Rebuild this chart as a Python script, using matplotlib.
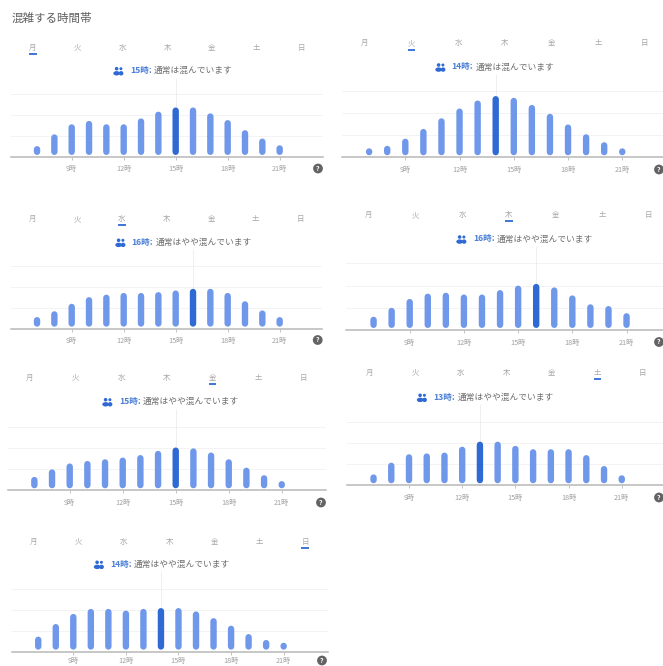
import matplotlib as mpl
mpl.use('Agg')
import matplotlib.pyplot as plt
from matplotlib.patches import Ellipse
import numpy as np

plt.rcParams['font.family'] = ['Noto Sans CJK JP', 'DejaVu Sans']

W = 663
H = 666

days = ['月', '火', '水', '木', '金', '土', '日']
hours = np.arange(7, 22)
tick_hours = [9, 12, 15, 18, 21]
tick_labels = ['9時', '12時', '15時', '18時', '21時']
grid_levels = [25, 50, 75]

# busyness per hour, 7時 to 21時
mon = [13, 27, 39, 43, 39, 39, 46, 54, 59, 59, 52, 44, 32, 22, 14]
tue = [9, 13, 21, 32, 44, 55, 64, 69, 67, 59, 49, 37, 26, 17, 10]
wed = [14, 21, 30, 38, 41, 43, 43, 44, 46, 48, 48, 43, 33, 22, 14]
thu = [15, 25, 35, 41, 42, 40, 40, 45, 50, 52, 48, 39, 29, 27, 19]
fri = [16, 25, 32, 35, 37, 39, 42, 47, 51, 50, 45, 37, 27, 18, 11]
sat = [13, 27, 37, 38, 39, 46, 52, 52, 47, 43, 43, 43, 36, 23, 12]
sun = [18, 33, 45, 51, 51, 49, 51, 52, 52, 48, 40, 31, 21, 14, 9]

day_values = [mon, tue, wed, thu, fri, sat, sun]
peak_hours = [15, 14, 16, 16, 15, 13, 14]
status = ['通常は混んでいます', '通常は混んでいます', '通常はやや混んでいます', '通常はやや混んでいます',
          '通常はやや混んでいます', '通常はやや混んでいます', '通常はやや混んでいます']

# panel placement in pixels of the image
panels = [
    dict(x9=71.7, hr=17.33, base=157.0, grid=21.0, left=11, right=323, day_y=47.7, day_x=33.0, day_step=44.7,
         icon=118.5, time=130.0, head=70.7, tick_y=168.5, q=318.0),
    dict(x9=405.3, hr=18.08, base=157.3, grid=22.2, left=342, right=663, day_y=43.3, day_x=365.0, day_step=46.6,
         icon=440.5, time=451.7, head=67.0, tick_y=169.5, q=659.0),
    dict(x9=71.7, hr=17.33, base=328.7, grid=20.8, left=11, right=322, day_y=219.0, day_x=32.7, day_step=44.6,
         icon=120.5, time=131.7, head=242.3, tick_y=340.0, q=317.7),
    dict(x9=409.7, hr=18.07, base=330.0, grid=22.2, left=346, right=663, day_y=215.0, day_x=369.0, day_step=46.6,
         icon=461.5, time=473.0, head=239.0, tick_y=342.0, q=659.0),
    dict(x9=69.7, hr=17.67, base=490.3, grid=21.0, left=8, right=326, day_y=377.7, day_x=30.0, day_step=45.6,
         icon=107.5, time=119.0, head=401.7, tick_y=502.5, q=321.0),
    dict(x9=409.0, hr=17.73, base=485.3, grid=21.0, left=347, right=663, day_y=372.7, day_x=369.3, day_step=45.6,
         icon=422.0, time=433.3, head=397.3, tick_y=497.5, q=659.0),
    dict(x9=73.3, hr=17.53, base=651.7, grid=21.0, left=12, right=328, day_y=541.7, day_x=33.3, day_step=45.3,
         icon=99.0, time=110.0, head=564.3, tick_y=660.5, q=322.0),
]

BLUE_LIGHT = '#6f97ea'
BLUE_DARK = '#2f6ad4'
BLUE_TEXT = '#4a7fd6'
GRAY_DAY = '#a8a8a8'
GRAY_TICK = '#a0a0a0'
GRAY_TEXT = '#6e6e6e'

BAR_PX = 6.4
GAP_PX = 2.0


def fx(px):
    return px / W


def fy(py):
    return 1 - py / H


def draw_icon(fig, x, y):
    # small people glyph beside the header
    for dx, r in [(-1.9, 1.8), (2.4, 1.5)]:
        fig.add_artist(Ellipse((fx(x + dx), fy(y - 2.0)), 2 * r / W, 2 * r / H, color=BLUE_DARK, lw=0))
    for dx, w in [(-1.9, 6.6), (2.6, 4.6)]:
        fig.add_artist(Ellipse((fx(x + dx), fy(y + 2.6)), w / W, 4.4 / H, color=BLUE_DARK, lw=0))


fig = plt.figure(figsize=(W / 100, H / 100), dpi=100)

fig.text(fx(11.5), fy(18), '混雑する時間帯', fontsize=8.3, color='#5f5f5f', va='center', ha='left')

for i, (vals, p) in enumerate(zip(day_values, panels)):
    top = p['head'] + 7
    ax = fig.add_axes([fx(p['left']), fy(p['base']), (p['right'] - p['left']) / W, (p['base'] - top) / H])
    ax.patch.set_alpha(0)
    per_px = 25 / p['grid']
    ax.set_ylim(0, (p['base'] - top) * per_px)
    ax.set_xlim(9 + (p['left'] - p['x9']) / p['hr'], 9 + (p['right'] - p['x9']) / p['hr'])

    for lev in grid_levels:
        ax.axhline(lev, color='#f3f3f3', lw=0.7, zorder=1)

    peak = peak_hours[i]
    vals = np.array(vals, dtype=float)
    ax.vlines(peak, vals[hours == peak][0], ax.get_ylim()[1], color='#ececec', lw=0.6, zorder=1)

    # round caps reach half a bar width past each end of the line
    cap = BAR_PX / 2 * per_px
    low = GAP_PX * per_px + cap
    for h, v in zip(hours, vals):
        color = BLUE_DARK if h == peak else BLUE_LIGHT
        # agg drops a line with no length, so short bars keep a small rise
        ax.plot([h, h], [low, max(v - cap, low + 0.6 * per_px)], color=color, lw=BAR_PX * 0.72,
                solid_capstyle='round', zorder=3, snap=False)

    for s in ['top', 'left', 'right']:
        ax.spines[s].set_visible(False)
    ax.spines['bottom'].set_color('#b8b8b8')
    ax.spines['bottom'].set_linewidth(1.1)
    ax.set_yticks([])
    ax.set_xticks(tick_hours)
    ax.set_xticklabels(tick_labels)
    ax.tick_params(axis='x', length=2, width=0.6, color='#b8b8b8', labelcolor=GRAY_TICK, labelsize=5.2,
                   pad=(p['tick_y'] - p['base'] - 6) * 0.72)

    # day selector
    for j, d in enumerate(days):
        x = p['day_x'] + j * p['day_step']
        fig.text(fx(x), fy(p['day_y']), d, fontsize=5.4, color=GRAY_DAY, ha='center', va='center')
    sel_x = p['day_x'] + i * p['day_step']
    fig.add_artist(plt.Line2D([fx(sel_x - 3.8), fx(sel_x + 3.8)], [fy(p['day_y'] + 6.3)] * 2,
                              color=BLUE_DARK, lw=1.3, solid_capstyle='butt'))

    # header line
    draw_icon(fig, p['icon'], p['head'])
    fig.text(fx(p['time']), fy(p['head']), f'{peak}時:', fontsize=6.2, fontweight='bold', color=BLUE_TEXT,
             ha='left', va='center')
    fig.text(fx(p['time'] + 24), fy(p['head']), status[i], fontsize=6.3, color=GRAY_TEXT, ha='left', va='center')

    # help badge
    fig.text(fx(p['q']), fy(p['tick_y']), '?', fontsize=5, fontweight='bold', color='white', ha='center', va='center',
             bbox=dict(boxstyle='circle,pad=0.2', fc='#636363', ec='none'))

fig.savefig('out.png', dpi=100)
